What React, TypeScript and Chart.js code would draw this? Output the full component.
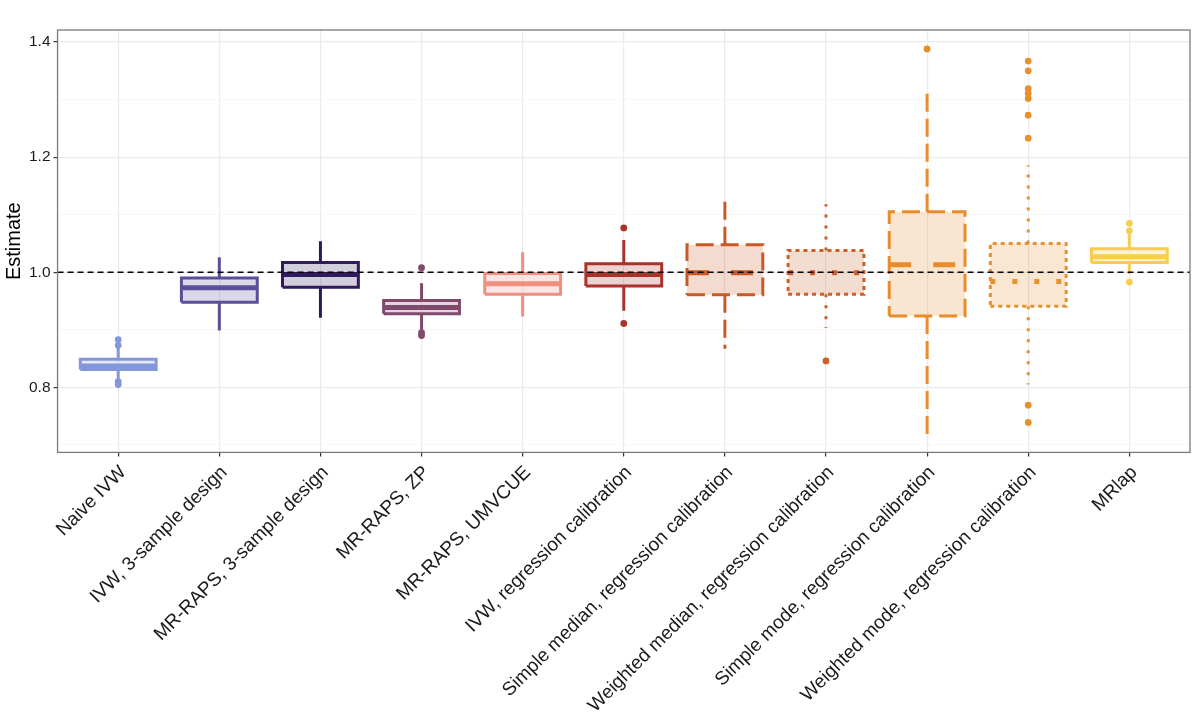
import { useEffect, useRef } from 'react';
import { Chart, registerables } from 'chart.js';

Chart.register(...registerables);

const CATEGORIES = [
  'Naive IVW',
  'IVW, 3-sample design',
  'MR-RAPS, 3-sample design',
  'MR-RAPS, ZP',
  'MR-RAPS, UMVCUE',
  'IVW, regression calibration',
  'Simple median, regression calibration',
  'Weighted median, regression calibration',
  'Simple mode, regression calibration',
  'Weighted mode, regression calibration',
  'MRlap',
];

const WHISKER_LOW = [0.814, 0.899, 0.921, 0.900, 0.923, 0.933, 0.867, 0.903, 0.718, 0.805, 0.997];
const Q1 = [0.831, 0.948, 0.974, 0.928, 0.962, 0.976, 0.961, 0.962, 0.924, 0.941, 1.017];
const MEDIAN = [0.837, 0.973, 0.996, 0.939, 0.980, 0.996, 0.999, 0.999, 1.013, 0.984, 1.027];
const Q3 = [0.849, 0.990, 1.017, 0.951, 0.998, 1.015, 1.048, 1.038, 1.105, 1.050, 1.041];
const WHISKER_HIGH = [0.869, 1.026, 1.054, 0.981, 1.035, 1.056, 1.131, 1.118, 1.317, 1.186, 1.066];

const OUTLIERS: number[][] = [
  [0.883, 0.873, 0.810, 0.805],
  [],
  [],
  [1.008, 0.895, 0.890],
  [],
  [1.077, 0.911],
  [],
  [0.846],
  [1.388],
  [1.367, 1.350, 1.319, 1.311, 1.302, 1.273, 1.233, 0.769, 0.739],
  [1.085, 1.072, 0.983],
];

const COLORS = [
  '#8497db', '#5b4f9c', '#2e1a5c', '#7f4a6e', '#ee8f80', '#a8332b',
  '#c95a26', '#c95f2a', '#e98c2a', '#e8912c', '#f7cd4b',
];

const LINE_TYPES = [
  'solid', 'solid', 'solid', 'solid', 'solid', 'solid',
  'longdash', 'dotted', 'longdash', 'dotted', 'solid',
];

const REFERENCE_VALUE = 1.0;
const Y_MAJOR_TICKS = [0.8, 1.0, 1.2, 1.4];
const Y_MINOR_TICKS = [0.7, 0.9, 1.1, 1.3];

const Y_MIN = 0.687;
const Y_MAX = 1.421;
const X_MIN = 0.4;
const X_MAX = 11.6;
const BOX_HALF = 0.375;

const DASHES: Record<string, { box: number[]; whisker: number[]; median: number[] }> = {
  solid: { box: [], whisker: [], median: [] },
  longdash: { box: [18, 7], whisker: [18, 7], median: [22, 22] },
  dotted: { box: [4, 4], whisker: [3, 8], median: [5, 17] },
};

function hexToRgba(hex: string, a: number) {
  const n = parseInt(hex.slice(1), 16);
  return `rgba(${(n >> 16) & 255},${(n >> 8) & 255},${n & 255},${a})`;
}

const isMajor = (v: number) => Y_MAJOR_TICKS.some((t) => Math.abs(t - v) < 1e-6);

const panelBorder = {
  id: 'panelBorder',
  afterDraw(chart: any) {
    const { ctx, chartArea } = chart;
    ctx.save();
    ctx.strokeStyle = '#7a7a7a';
    ctx.lineWidth = 1.3;
    ctx.strokeRect(chartArea.left, chartArea.top, chartArea.right - chartArea.left, chartArea.bottom - chartArea.top);
    ctx.restore();
  },
};

function buildDatasets() {
  const ds: any[] = [];
  ds.push({
    label: 'reference',
    data: [
      { x: X_MIN, y: REFERENCE_VALUE },
      { x: X_MAX, y: REFERENCE_VALUE },
    ],
    borderColor: '#000000',
    borderWidth: 1.6,
    borderDash: [6, 4],
    pointRadius: 0,
    fill: false,
    order: 0,
  });
  CATEGORIES.forEach((_, i) => {
    const x = i + 1;
    const color = COLORS[i];
    const dash = DASHES[LINE_TYPES[i]];
    const whiskerWidth = 3;
    ds.push({
      label: 'median ' + i,
      data: [
        { x: x - BOX_HALF, y: MEDIAN[i] },
        { x: x + BOX_HALF, y: MEDIAN[i] },
      ],
      borderColor: color,
      borderWidth: 5,
      borderDash: dash.median,
      pointRadius: 0,
      fill: false,
      order: 1,
    });
    ds.push({
      label: 'box ' + i,
      data: [
        { x: x - BOX_HALF, y: Q1[i] },
        { x: x + BOX_HALF, y: Q1[i] },
        { x: x + BOX_HALF, y: Q3[i] },
        { x: x - BOX_HALF, y: Q3[i] },
        { x: x - BOX_HALF, y: Q1[i] },
      ],
      borderColor: color,
      backgroundColor: hexToRgba(color, 0.22),
      borderWidth: 3,
      borderDash: dash.box,
      borderJoinStyle: 'miter',
      pointRadius: 0,
      fill: 'shape',
      order: 2,
    });
    ds.push({
      label: 'whisker hi ' + i,
      data: [
        { x, y: Q3[i] },
        { x, y: WHISKER_HIGH[i] },
      ],
      borderColor: color,
      borderWidth: whiskerWidth,
      borderDash: dash.whisker,
      pointRadius: 0,
      fill: false,
      order: 3,
    });
    ds.push({
      label: 'whisker lo ' + i,
      data: [
        { x, y: Q1[i] },
        { x, y: WHISKER_LOW[i] },
      ],
      borderColor: color,
      borderWidth: whiskerWidth,
      borderDash: dash.whisker,
      pointRadius: 0,
      fill: false,
      order: 3,
    });
    if (OUTLIERS[i].length) {
      ds.push({
        label: 'outliers ' + i,
        data: OUTLIERS[i].map((y) => ({ x, y })),
        showLine: false,
        pointRadius: 3.4,
        pointBackgroundColor: color,
        pointBorderColor: color,
        pointBorderWidth: 0,
        order: 1,
      });
    }
  });
  return ds;
}

export default function App() {
  const ref = useRef<HTMLCanvasElement>(null);
  useEffect(() => {
    document.body.style.margin = '0';
    const chart = new Chart(ref.current!, {
      type: 'line',
      data: { datasets: buildDatasets() },
      plugins: [panelBorder],
      options: {
        animation: false,
        responsive: false,
        layout: { padding: { left: 2, right: 10, top: 30, bottom: 2 } },
        plugins: { legend: { display: false }, tooltip: { enabled: false } },
        elements: { line: { tension: 0 } },
        scales: {
          x: {
            type: 'linear',
            min: X_MIN,
            max: X_MAX,
            afterBuildTicks: (scale: any) => {
              scale.ticks = CATEGORIES.map((_, i) => ({ value: i + 1 }));
            },
            ticks: {
              autoSkip: false,
              minRotation: 45,
              maxRotation: 45,
              padding: 5,
              labelOffset: 5,
              color: '#1a1a1a',
              font: { family: "'Liberation Sans', Arial, sans-serif", size: 19 },
              callback: (v: any) => CATEGORIES[Math.round(Number(v)) - 1] ?? '',
            },
            grid: { color: '#ebebeb', lineWidth: 1.2, tickColor: '#333333', tickLength: 4 },
            border: { display: false },
          },
          y: {
            type: 'linear',
            min: Y_MIN,
            max: Y_MAX,
            afterBuildTicks: (scale: any) => {
              scale.ticks = [...Y_MINOR_TICKS, ...Y_MAJOR_TICKS].sort((a, b) => a - b).map((v) => ({ value: v }));
            },
            ticks: {
              padding: 3,
              color: '#1a1a1a',
              font: { family: "'Liberation Sans', Arial, sans-serif", size: 15.5 },
              callback: (v: any) => (isMajor(Number(v)) ? Number(v).toFixed(1) : ''),
            },
            grid: {
              color: (c: any) => (isMajor(c.tick?.value) ? '#ebebeb' : '#f5f5f5'),
              lineWidth: (c: any) => (isMajor(c.tick?.value) ? 1.2 : 0.8),
              tickColor: (c: any) => (isMajor(c.tick?.value) ? '#333333' : 'rgba(0,0,0,0)'),
              tickLength: 4,
            },
            border: { display: false },
            title: {
              display: true,
              text: 'Estimate',
              color: '#000000',
              padding: 0,
              font: { family: "'Liberation Sans', Arial, sans-serif", size: 20 },
            },
          },
        },
      } as any,
    });
    return () => chart.destroy();
  }, []);
  return (
    <div style={{ width: 1200, height: 724, position: 'relative' }}>
      <canvas ref={ref} width={1200} height={724} style={{ display: 'block', width: '1200px', height: '724px' }} />
    </div>
  );
}
